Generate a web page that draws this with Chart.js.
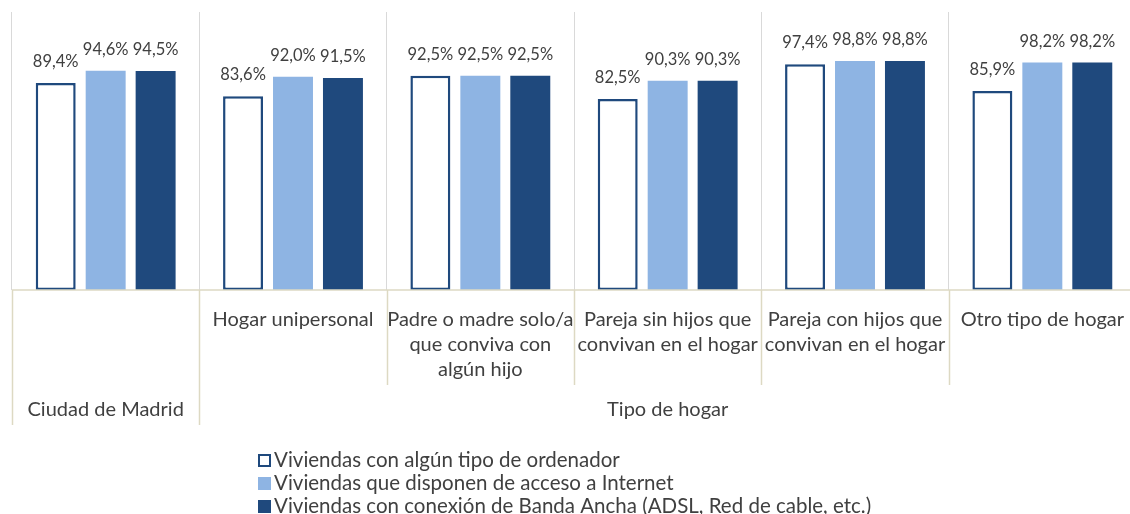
<!DOCTYPE html>
<html>
<head>
<meta charset="utf-8">
<script src="https://cdn.jsdelivr.net/npm/chart.js@4/dist/chart.umd.min.js"></script>
<style>
  html, body { margin: 0; padding: 0; background: #fff; overflow: hidden; }
  #wrap { width: 1142px; height: 514px; position: relative; }
</style>
</head>
<body>
<div id="wrap"><canvas id="grafico"></canvas></div>
<script>
// categorias (nivel inferior del eje) y grupos (nivel superior)
const categorias = [
  [''],
  ['Hogar unipersonal'],
  ['Padre o madre solo/a', 'que conviva con', 'algún hijo'],
  ['Pareja sin hijos que', 'convivan en el hogar'],
  ['Pareja con hijos que', 'convivan en el hogar'],
  ['Otro tipo de hogar']
];
const grupos = [
  { nombre: 'Ciudad de Madrid', desde: 0, hasta: 0 },
  { nombre: 'Tipo de hogar', desde: 1, hasta: 5 }
];

const series = [
  'Viviendas con algún tipo de ordenador',
  'Viviendas que disponen de acceso a Internet',
  'Viviendas con conexión de Banda Ancha (ADSL, Red de cable, etc.)'
];
const ordenador = [89.4, 83.6, 92.5, 82.5, 97.4, 85.9];
const internet  = [94.6, 92.0, 92.5, 90.3, 98.8, 98.2];
const bandaAncha = [94.5, 91.5, 92.5, 90.3, 98.8, 98.2];

const FUENTE = 'Lato, "Open Sans", sans-serif';
const TEXTO = '#404040';
const AZUL = '#1f497d';
const CELESTE = '#8eb4e3';
const BEIGE = '#ddd9c3';

const fmt = v => v.toFixed(1).replace('.', ',') + '%';

// etiquetas de valor encima de cada barra
const etiquetas = {
  id: 'etiquetas',
  afterDatasetsDraw(chart) {
    const ctx = chart.ctx;
    ctx.save();
    ctx.font = '16.5px ' + FUENTE;
    ctx.fillStyle = TEXTO;
    ctx.textAlign = 'center';
    ctx.textBaseline = 'alphabetic';
    chart.data.datasets.forEach((ds, i) => {
      chart.getDatasetMeta(i).data.forEach((bar, j) => {
        ctx.fillText(fmt(ds.data[j]), bar.x, bar.y - 16);
      });
    });
    ctx.restore();
  }
};

// eje de dos niveles: separadores bajo el eje y nombres de grupo
const ejeDoble = {
  id: 'ejeDoble',
  afterDraw(chart) {
    const ctx = chart.ctx;
    const area = chart.chartArea;
    const paso = (area.right - area.left) / categorias.length;
    const borde = i => area.left + i * paso;
    const finGrupo = new Set([0]);
    grupos.forEach(g => finGrupo.add(g.hasta + 1));
    ctx.save();
    ctx.strokeStyle = BEIGE;
    ctx.lineWidth = 1.5;
    ctx.beginPath();
    ctx.moveTo(area.left, area.bottom);
    ctx.lineTo(area.right, area.bottom);
    for (let i = 0; i <= categorias.length; i++) {
      const px = Math.round(borde(i)) + 0.5;
      ctx.moveTo(px, area.bottom);
      ctx.lineTo(px, area.bottom + (finGrupo.has(i) ? 135 : 95));
    }
    ctx.stroke();
    ctx.font = '20px ' + FUENTE;
    ctx.fillStyle = TEXTO;
    ctx.textAlign = 'center';
    ctx.textBaseline = 'middle';
    grupos.forEach(g => {
      const cx = (borde(g.desde) + borde(g.hasta + 1)) / 2;
      ctx.fillText(g.nombre, cx, area.bottom + 120);
    });

    // leyenda en columna
    ctx.font = '20.5px ' + FUENTE;
    const ds = chart.data.datasets;
    let ancho = 0;
    ds.forEach(d => { ancho = Math.max(ancho, ctx.measureText(d.label).width); });
    const x0 = Math.round(565 - (ancho + 16) / 2);
    ctx.textAlign = 'left';
    ds.forEach((d, i) => {
      const cy = 460 + i * 23;
      if (d.borderWidth) {
        ctx.fillStyle = '#fff';
        ctx.fillRect(x0, cy - 6, 13, 13);
        ctx.strokeStyle = d.borderColor;
        ctx.lineWidth = 2;
        ctx.strokeRect(x0 + 1, cy - 5, 11, 11);
      } else {
        ctx.fillStyle = d.backgroundColor;
        ctx.fillRect(x0, cy - 6, 13, 13);
      }
      ctx.fillStyle = TEXTO;
      ctx.fillText(d.label, x0 + 16, cy);
    });
    ctx.restore();
  }
};

new Chart(document.getElementById('grafico'), {
  type: 'bar',
  data: {
    labels: categorias,
    datasets: [
      { label: series[0], data: ordenador, backgroundColor: '#fff', borderColor: AZUL, borderWidth: 2.5, borderSkipped: false },
      { label: series[1], data: internet, backgroundColor: CELESTE, borderWidth: 0 },
      { label: series[2], data: bandaAncha, backgroundColor: AZUL, borderWidth: 0 }
    ]
  },
  options: {
    responsive: true,
    maintainAspectRatio: false,
    animation: false,
    layout: { padding: { top: 12, left: 12, right: 6, bottom: 0 } },
    plugins: { legend: { display: false }, tooltip: { enabled: false } },
    datasets: { bar: { categoryPercentage: 0.8, barPercentage: 0.8 } },
    scales: {
      x: {
        grid: { offset: true, color: '#d9d9d9', drawTicks: false },
        border: { display: false },
        ticks: {
          color: TEXTO,
          font: { family: FUENTE, size: 20, lineHeight: 1.25 },
          padding: 17,
          maxRotation: 0,
          autoSkip: false
        },
        afterFit(scale) { scale.height = 224; }
      },
      y: {
        display: false,
        min: 0,
        max: 120
      }
    }
  },
  plugins: [etiquetas, ejeDoble]
});
</script>
</body>
</html>
